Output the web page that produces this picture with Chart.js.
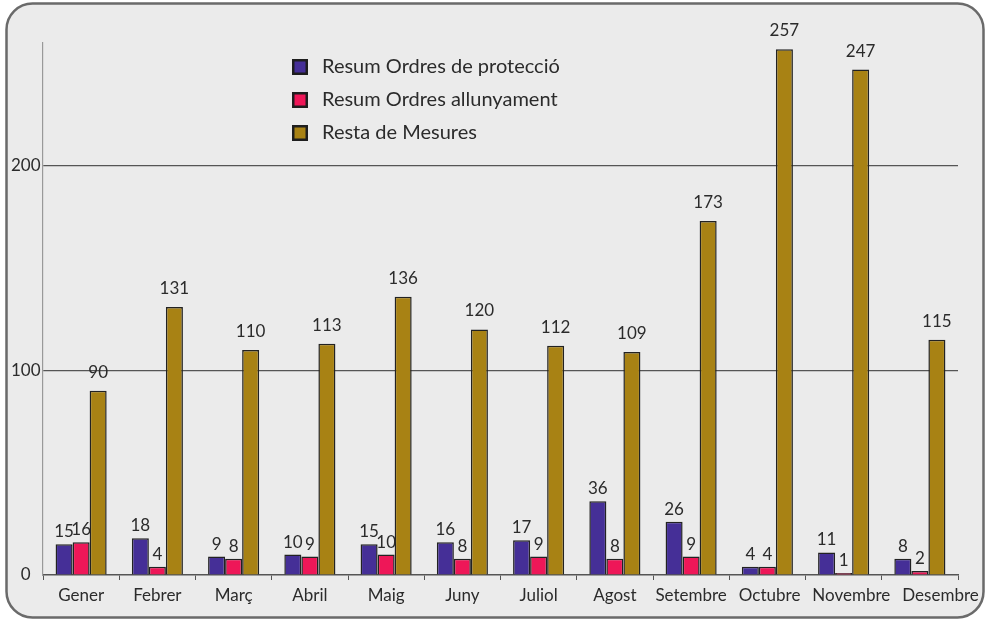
<!DOCTYPE html>
<html>
<head>
<meta charset="utf-8">
<script src="https://cdn.jsdelivr.net/npm/chart.js@4.4.0/dist/chart.umd.min.js"></script>
<style>
  body { margin: 0; background: #fff; }
  #wrap { width: 989px; height: 622px; position: relative; }
</style>
</head>
<body>
<div id="wrap"><canvas id="ordresChart"></canvas></div>
<script>
// Dades del gràfic
var mesos = ['Gener', 'Febrer', 'Març', 'Abril', 'Maig', 'Juny', 'Juliol', 'Agost', 'Setembre', 'Octubre', 'Novembre', 'Desembre'];
var ordresProteccio = [15, 18, 9, 10, 15, 16, 17, 36, 26, 4, 11, 8];
var ordresAllunyament = [16, 4, 8, 9, 10, 8, 9, 8, 9, 4, 1, 2];
var restaMesures = [90, 131, 110, 113, 136, 120, 112, 109, 173, 257, 247, 115];
var yTicks = [0, 100, 200];

var fontFamily = 'Lato, "Open Sans", sans-serif';

// Fons gris amb vora arrodonida
var fonsPlugin = {
    id: 'fons',
    beforeDraw: function(chart) {
        var ctx = chart.ctx;
        ctx.save();
        ctx.fillStyle = '#ffffff';
        ctx.fillRect(0, 0, chart.width, chart.height);
        ctx.beginPath();
        ctx.roundRect(6.5, 3.5, 977, 614, 26);
        ctx.fillStyle = '#ebebeb';
        ctx.fill();
        ctx.lineWidth = 2.5;
        ctx.strokeStyle = '#6a6a6a';
        ctx.stroke();
        ctx.restore();
    }
};

// Valors damunt de cada barra
var valorsPlugin = {
    id: 'valors',
    afterDatasetsDraw: function(chart) {
        var ctx = chart.ctx;
        ctx.save();
        ctx.font = '17px ' + fontFamily;
        ctx.fillStyle = '#2b2b2b';
        ctx.textAlign = 'center';
        ctx.textBaseline = 'alphabetic';
        chart.data.datasets.forEach(function(ds, i) {
            var gap = i === 2 ? 13 : 7;
            chart.getDatasetMeta(i).data.forEach(function(bar, j) {
                ctx.fillText(ds.data[j], bar.x, bar.y - gap);
            });
        });
        ctx.restore();
    }
};

// Etiquetes dels mesos (l'última es desplaça si es trepitja amb l'anterior)
var mesosPlugin = {
    id: 'mesos',
    afterDraw: function(chart) {
        var ctx = chart.ctx;
        var xScale = chart.scales.x;
        ctx.save();
        ctx.font = '17px ' + fontFamily;
        ctx.fillStyle = '#2b2b2b';
        ctx.textAlign = 'center';
        ctx.textBaseline = 'alphabetic';
        var prevRight = -Infinity;
        chart.data.labels.forEach(function(lbl, i) {
            var w = ctx.measureText(lbl).width;
            var x = xScale.getPixelForValue(i);
            if (x - w / 2 < prevRight + 12) x = prevRight + 12 + w / 2;
            ctx.fillText(lbl, x, xScale.bottom - 21);
            prevRight = x + w / 2;
        });
        ctx.restore();
    }
};

// Llegenda dins l'àrea del gràfic
var llegendaPlugin = {
    id: 'llegenda',
    afterDraw: function(chart) {
        var ctx = chart.ctx;
        ctx.save();
        ctx.font = '20px ' + fontFamily;
        ctx.textBaseline = 'middle';
        chart.data.datasets.forEach(function(ds, i) {
            var y = 67 + i * 33;
            ctx.fillStyle = '#1e1e1e';
            ctx.fillRect(292, y - 8, 16, 16);
            ctx.fillStyle = ds.backgroundColor;
            ctx.fillRect(294.5, y - 5.5, 11, 11);
            ctx.fillStyle = '#2b2b2b';
            ctx.fillText(ds.label, 322, y);
        });
        ctx.restore();
    }
};

var ctx = document.getElementById('ordresChart').getContext('2d');
var ordresChart = new Chart(ctx, {
    type: 'bar',
    data: {
        labels: mesos,
        datasets: [{
            label: 'Resum Ordres de protecció',
            data: ordresProteccio,
            backgroundColor: '#452f97'
        }, {
            label: 'Resum Ordres allunyament',
            data: ordresAllunyament,
            backgroundColor: '#ee1758'
        }, {
            label: 'Resta de Mesures',
            data: restaMesures,
            backgroundColor: '#a88214'
        }]
    },
    options: {
        responsive: true,
        maintainAspectRatio: false,
        animation: false,
        layout: { padding: { top: 43, right: 31, left: 0, bottom: 0 } },
        datasets: {
            bar: {
                borderColor: '#222222',
                borderWidth: 1.5,
                borderSkipped: 'start',
                barPercentage: 1,
                categoryPercentage: 0.67
            }
        },
        plugins: {
            legend: { display: false },
            tooltip: { enabled: false }
        },
        scales: {
            x: {
                grid: {
                    drawOnChartArea: false,
                    drawTicks: true,
                    tickLength: 5,
                    color: '#555555'
                },
                border: { color: '#555555', width: 1.5 },
                ticks: { display: false },
                afterFit: function(scale) { scale.height = 47; }
            },
            y: {
                min: 0,
                max: 260,
                afterBuildTicks: function(scale) {
                    scale.ticks = yTicks.map(function(v) { return { value: v }; });
                },
                grid: {
                    drawTicks: false,
                    color: function(c) { return c.tick && c.tick.value === 0 ? 'rgba(0,0,0,0)' : '#555555'; },
                    lineWidth: 1.2
                },
                border: { color: '#999999', width: 1.2 },
                ticks: {
                    color: '#2b2b2b',
                    font: { family: fontFamily, size: 17 },
                    padding: 2.5,
                    crossAlign: 'center'
                },
                afterFit: function(scale) { scale.width = 43; }
            }
        }
    },
    plugins: [fonsPlugin, valorsPlugin, mesosPlugin, llegendaPlugin]
});
</script>
</body>
</html>
